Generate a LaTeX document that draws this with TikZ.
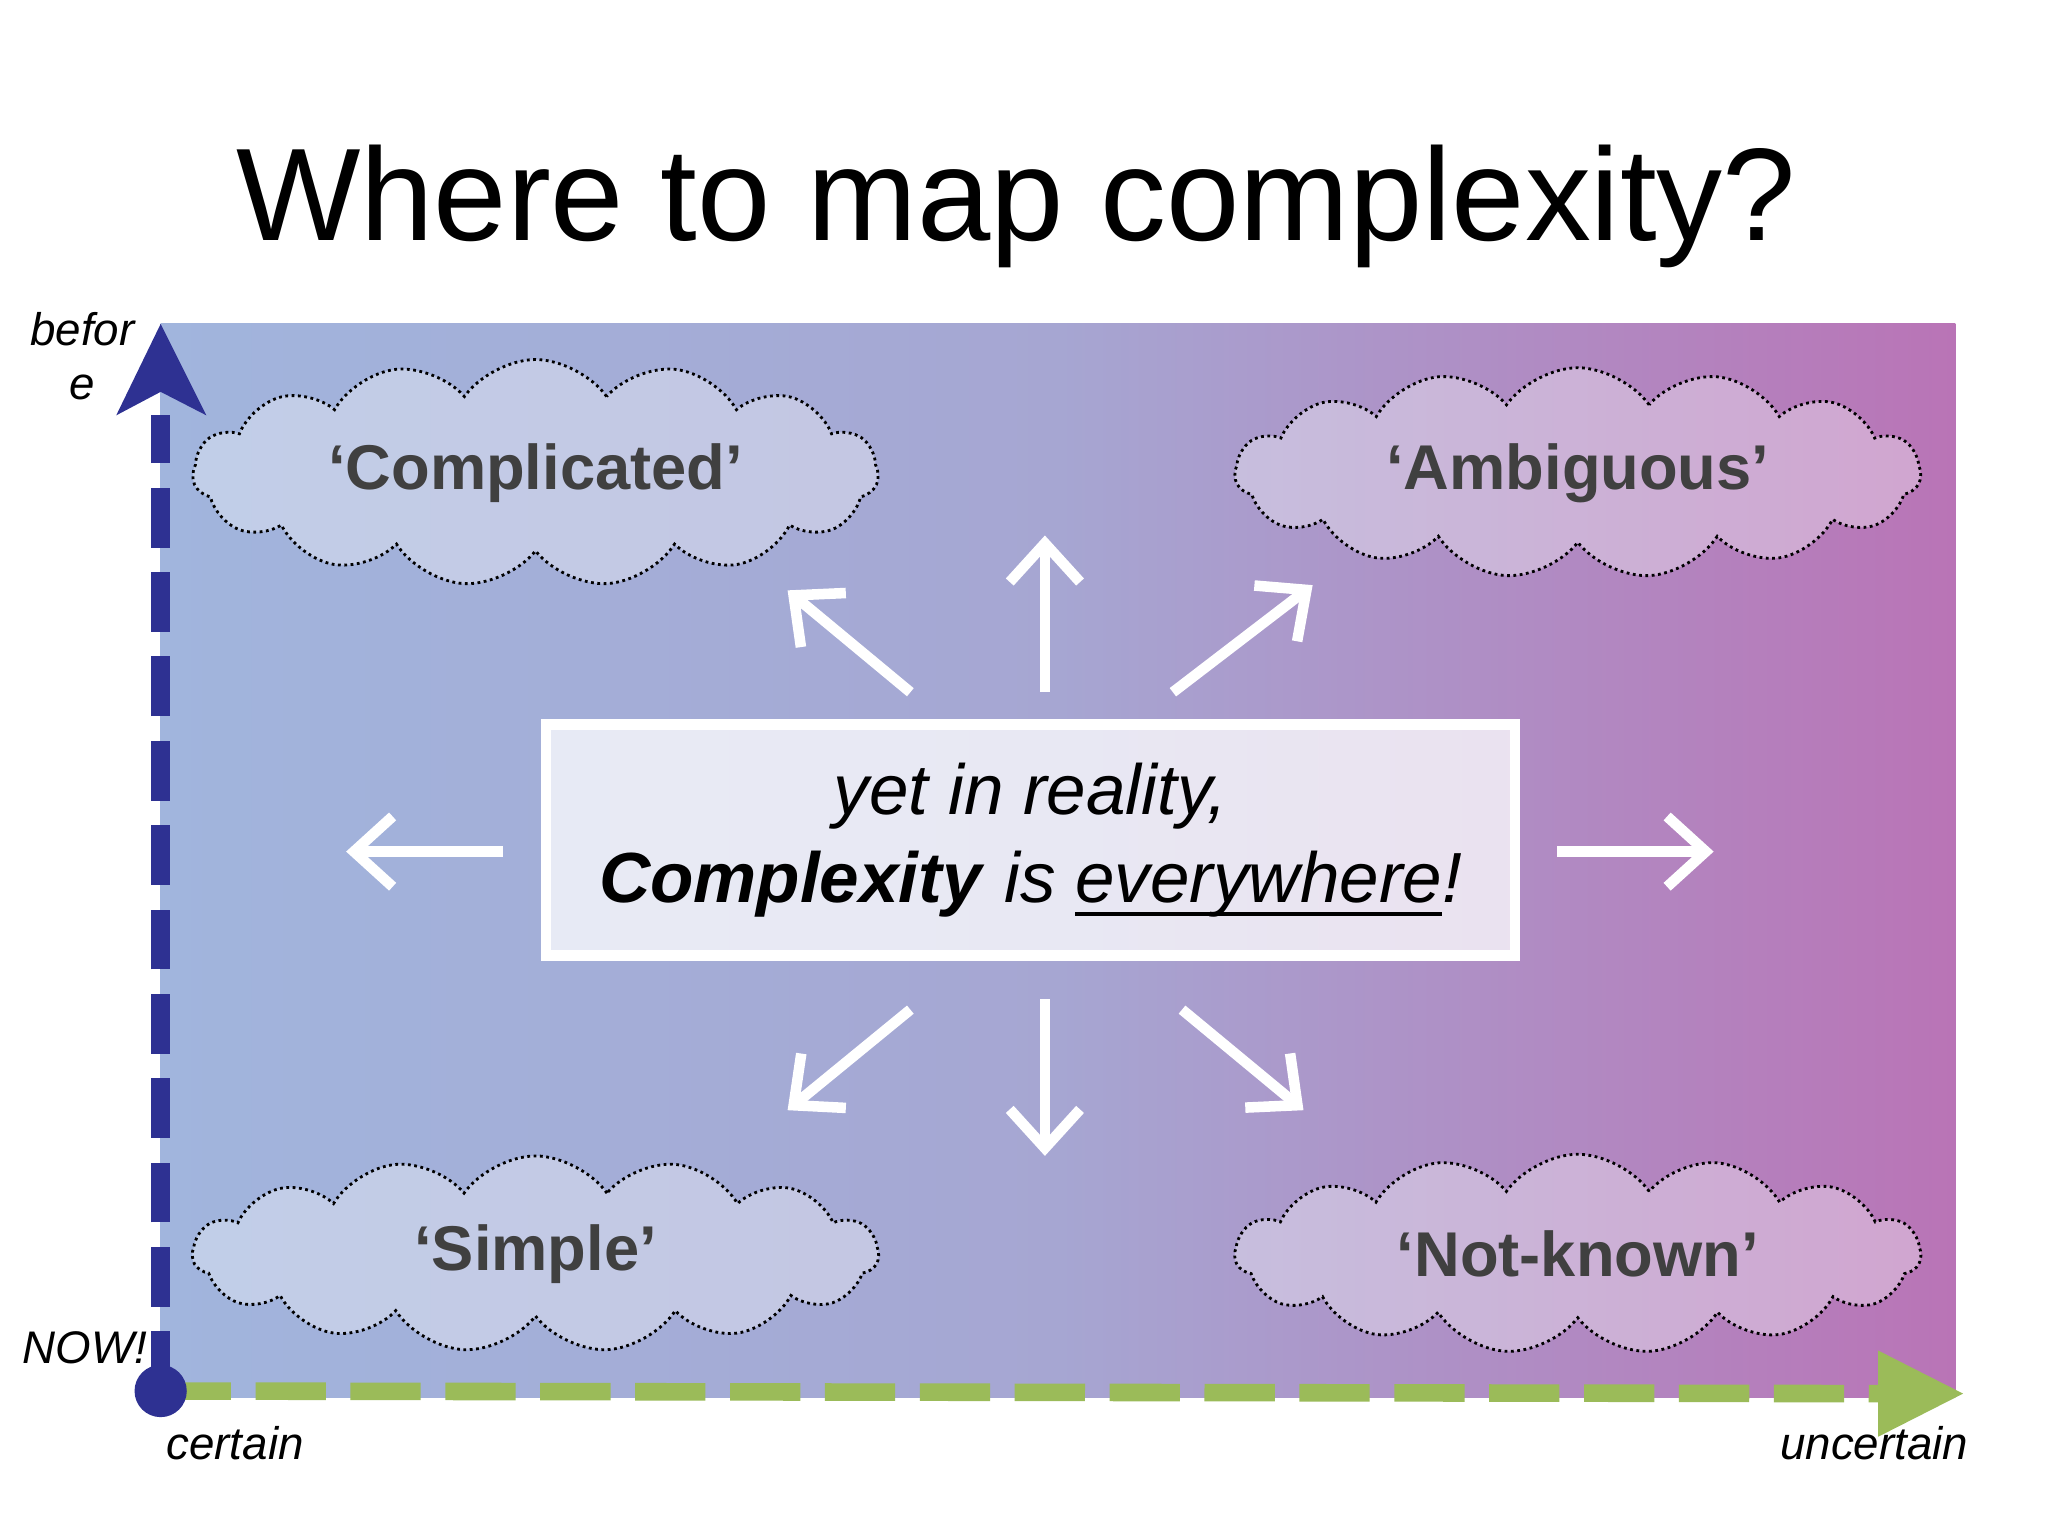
\documentclass[tikz,border=0pt]{standalone}
\usepackage{fontspec}
\setmainfont{Liberation Sans}
\usepackage{xcolor}
\usetikzlibrary{arrows.meta,shapes.symbols,calc}
\definecolor{bgL}{RGB}{161,181,221}
\definecolor{bgM}{RGB}{166,166,210}
\definecolor{bgR}{RGB}{185,116,182}
\definecolor{axblue}{RGB}{46,49,146}
\definecolor{axgreen}{RGB}{155,187,89}
\definecolor{cloudtxt}{RGB}{64,64,64}
\newcommand{\thickul}[1]{\setbox0\hbox{#1}\rlap{\rule[-4pt]{\wd0}{1.3pt}}\box0}
\tikzset{
  x=0.01306cm,y=-0.01306cm,
  cloudbox/.style={cloud,cloud puffs=15,cloud puff arc=110,aspect=3.8,draw=black,densely dotted,thick,fill=white,fill opacity=0.35,text opacity=1,minimum width=525*0.01306cm,minimum height=150*0.01306cm,font=\fontsize{18}{22}\selectfont\bfseries,text=cloudtxt},
  warrow/.style={draw=white,line width=3pt,-{Straight Barb[length=11pt,width=20pt,line width=3pt]}},
  axlab/.style={font=\fontsize{13}{15}\selectfont\itshape}
}
\begin{document}
\begin{tikzpicture}
\useasboundingbox (0,0) rectangle (1568,1176);
\fill[white] (0,0) rectangle (1568,1176);
\node (title) at (778,158) {\fontsize{37.5}{44}\selectfont Where to map complexity?};
% background
\shade[left color=bgL,right color=bgR,middle color=bgM] (123,248) rectangle (1497,1070);
% clouds
\node[cloudbox] (c1) at (410,362) {`Complicated'};
\node[cloudbox] (c2) at (1208,362) {`Ambiguous'};
\node[cloudbox] (c3) at (410,960) {`Simple'};
\node[cloudbox] (c4) at (1208,960) {`Not-known'};
% center box
\node[draw=white,line width=3pt,fill=white,fill opacity=0.75,text opacity=1,minimum width=742*0.01306cm,minimum height=177*0.01306cm,align=center,font=\fontsize{20.2}{25}\selectfont] (box) at (789,643)
 {\itshape yet in reality,\\ \textbf{\itshape Complexity} \itshape is \thickul{everywhere}!};
% arrows
\coordinate (u0) at (800,530); \coordinate (u1) at (800,410);
\coordinate (ul0) at (697,530); \coordinate (ul1) at (603,452);
\coordinate (ur0) at (898,530); \coordinate (ur1) at (1005,448);
\coordinate (l0) at (385,652); \coordinate (l1) at (265,652);
\coordinate (r0) at (1192,652); \coordinate (r1) at (1312,652);
\coordinate (dl0) at (697,773); \coordinate (dl1) at (603,850);
\coordinate (d0) at (800,765); \coordinate (d1) at (800,885);
\coordinate (dr0) at (905,773); \coordinate (dr1) at (998,850);
\foreach \a in {u,ul,ur,l,r,dl,d,dr} \draw[warrow] (\a0) -- (\a1);
% axes
\coordinate (o) at (123,1065);
\coordinate (ytop) at (123,248);
\coordinate (xend) at (1503,1067);
\draw[axgreen,line width=5pt,dash pattern=on 20pt off 7pt] (o) -- ($(xend)+(-60,0)$);
\fill[axgreen] (xend) -- ++(-65,-33) -- ++(0,66) -- cycle;
\draw[axblue,line width=5.5pt,dash pattern=on 17pt off 7pt] (o) -- ($(ytop)+(0,70)$);
\fill[axblue] (ytop) -- (158,318) -- (123,300) -- (89,318) -- cycle;
\fill[axblue] (o) circle (20);
% labels
\node[axlab] (lb1) at (63,252) {befor};
\node[axlab] (lb2) at (63,297) {e};
\node[axlab] (now) at (65,1032) {NOW!};
\node[axlab] (cert) at (180,1105) {certain};
\node[axlab] (unc) at (1435,1105) {uncertain};
\end{tikzpicture}
\end{document}
